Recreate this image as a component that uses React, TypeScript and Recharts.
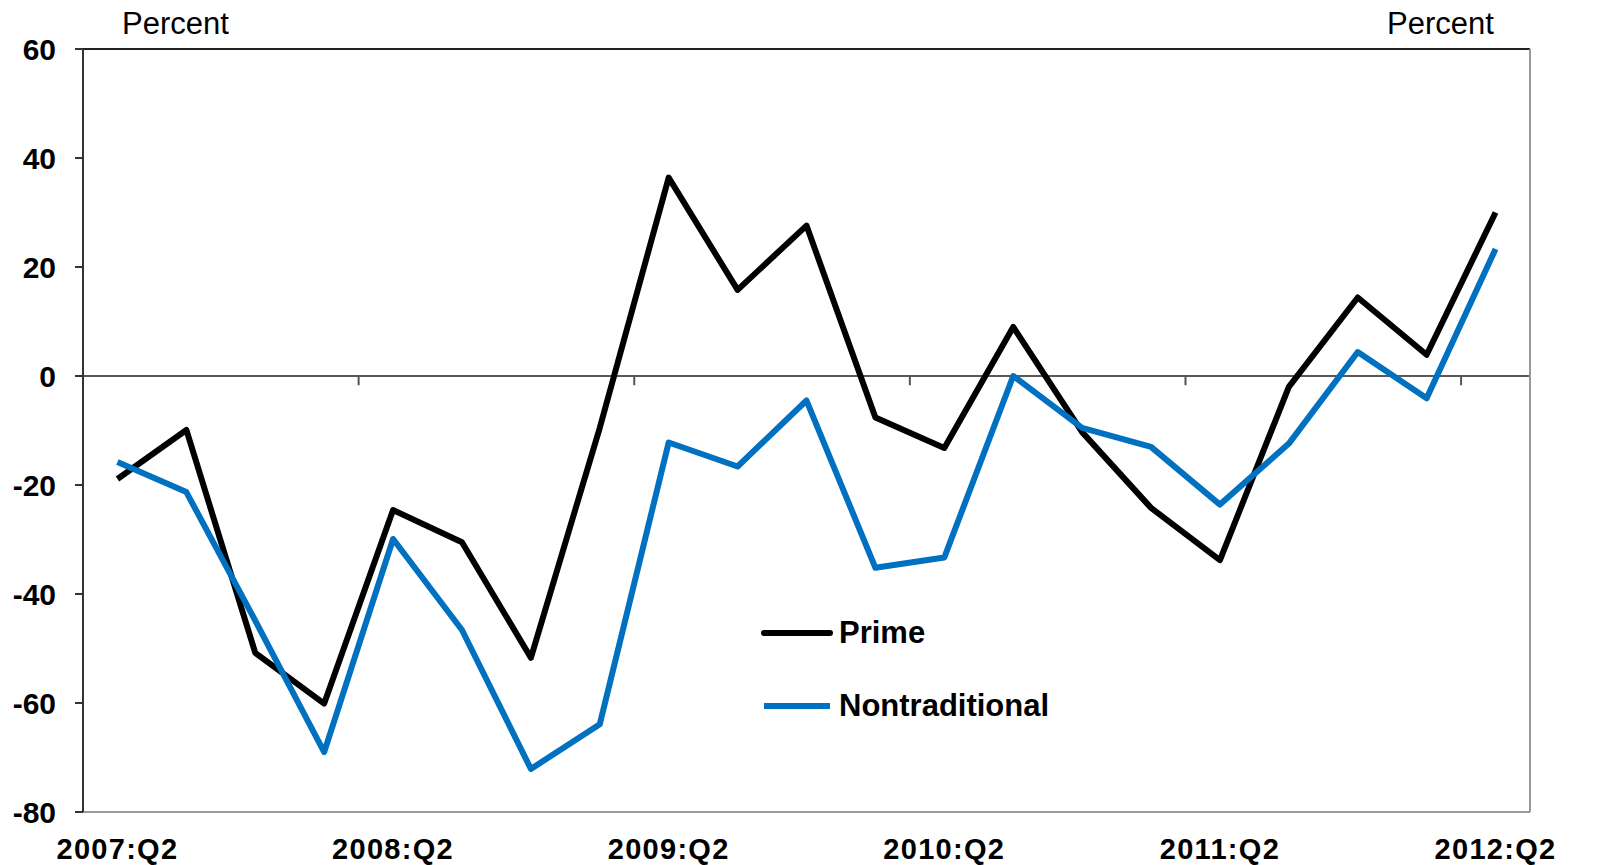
import React from "react";
import { LineChart, Line, XAxis, YAxis, ReferenceLine } from "recharts";

const quarters = [
  "2007:Q2", "2007:Q3", "2007:Q4", "2008:Q1", "2008:Q2", "2008:Q3", "2008:Q4",
  "2009:Q1", "2009:Q2", "2009:Q3", "2009:Q4", "2010:Q1", "2010:Q2", "2010:Q3",
  "2010:Q4", "2011:Q1", "2011:Q2", "2011:Q3", "2011:Q4", "2012:Q1", "2012:Q2",
];
const prime = [-18.9, -9.9, -50.8, -60.1, -24.6, -30.5, -51.7, -9.5, 36.4, 15.8, 27.6, -7.6, -13.2, 9.0, -10.3, -24.2, -33.8, -2.0, 14.4, 3.9, 30.0];
const nontraditional = [-15.8, -21.3, -44.9, -69.0, -29.9, -46.6, -72.1, -63.9, -12.2, -16.6, -4.5, -35.2, -33.3, 0.0, -9.5, -13.0, -23.6, -12.4, 4.4, -4.1, 23.3];
const yTicks = [-80, -60, -40, -20, 0, 20, 40, 60];
const xLabelTicks = [0, 4, 8, 12, 16, 20];
const zeroTicks = [3.5, 7.5, 11.5, 15.5, 19.5];
const seriesNames = ["Prime", "Nontraditional"];
const seriesColors = ["#000000", "#0070C0"];

const data = quarters.map((q, i) => ({ i, q, prime: prime[i], nontraditional: nontraditional[i] }));

const FONT = "'Liberation Sans', Arial, Helvetica, sans-serif";

const LegendBox = () => (
  <div style={{ position: "absolute", left: 761, top: 596, fontFamily: FONT, fontWeight: "bold", fontSize: 31, color: "#000" }}>
    {seriesNames.map((name, k) => (
      <div key={name} style={{ display: "flex", alignItems: "center", height: 73 }}>
        <svg width={72} height={8} style={{ display: "block" }}>
          <line x1={3} y1={4} x2={69} y2={4} stroke={seriesColors[k]} strokeWidth={6} strokeLinecap={k === 0 ? "round" : "butt"} />
        </svg>
        <span style={{ marginLeft: 6, lineHeight: "31px" }}>{name}</span>
      </div>
    ))}
  </div>
);

export default function App() {
  return (
    <div style={{ position: "absolute", left: 0, top: 0, width: 1614, height: 865, background: "#fff", overflow: "hidden" }}>
      <div style={{ position: "absolute", left: 122, top: 8, fontFamily: FONT, fontSize: 31, lineHeight: "31px", color: "#000" }}>Percent</div>
      <div style={{ position: "absolute", left: 1387, top: 8, fontFamily: FONT, fontSize: 31, lineHeight: "31px", color: "#000" }}>Percent</div>
      <LineChart width={1614} height={865} data={data} margin={{ top: 49, right: 14, bottom: 0, left: 13 }}>
        <XAxis
          dataKey="i"
          type="number"
          domain={[-0.5, 20.5]}
          ticks={xLabelTicks}
          tickFormatter={(v: number) => quarters[v]}
          height={53}
          tickLine={false}
          tickSize={0}
          tickMargin={26}
          axisLine={{ stroke: "#9a9a9a", strokeWidth: 2 }}
          tick={{ fill: "#000", fontSize: 29, fontWeight: "bold", fontFamily: FONT, letterSpacing: 1.3 }}
          interval={0}
        />
        <YAxis
          yAxisId="left"
          domain={[-80, 60]}
          ticks={yTicks}
          width={70}
          tickSize={8}
          tickMargin={19}
          axisLine={{ stroke: "#333", strokeWidth: 2 }}
          tickLine={{ stroke: "#333", strokeWidth: 2 }}
          tick={{ fill: "#000", fontSize: 30, fontWeight: "bold", fontFamily: FONT }}
          interval={0}
        />
        <YAxis
          yAxisId="right"
          orientation="right"
          domain={[-80, 60]}
          ticks={yTicks}
          width={70}
          tickSize={8}
          tickMargin={20}
          axisLine={{ stroke: "#9a9a9a", strokeWidth: 2 }}
          tickLine={{ stroke: "#9a9a9a", strokeWidth: 2 }}
          tick={{ fill: "#000", fontSize: 30, fontWeight: "bold", fontFamily: FONT }}
          interval={0}
        />
        <ReferenceLine yAxisId="left" y={60} stroke="#222" strokeWidth={2} />
        <ReferenceLine yAxisId="left" y={0} stroke="#222" strokeWidth={1.5} />
        {zeroTicks.map((t) => (
          <ReferenceLine
            key={t}
            yAxisId="left"
            segment={[{ x: t, y: 0 }, { x: t, y: -1.7 }]}
            stroke="#555"
            strokeWidth={2}
          />
        ))}
        <Line
          yAxisId="left"
          type="linear"
          dataKey="prime"
          name="Prime"
          stroke="#000000"
          strokeWidth={6}
          dot={false}
          strokeLinejoin="round"
          isAnimationActive={false}
        />
        <Line
          yAxisId="left"
          type="linear"
          dataKey="nontraditional"
          name="Nontraditional"
          stroke="#0070C0"
          strokeWidth={6}
          dot={false}
          strokeLinejoin="round"
          isAnimationActive={false}
        />
      </LineChart>
      <LegendBox />
    </div>
  );
}
